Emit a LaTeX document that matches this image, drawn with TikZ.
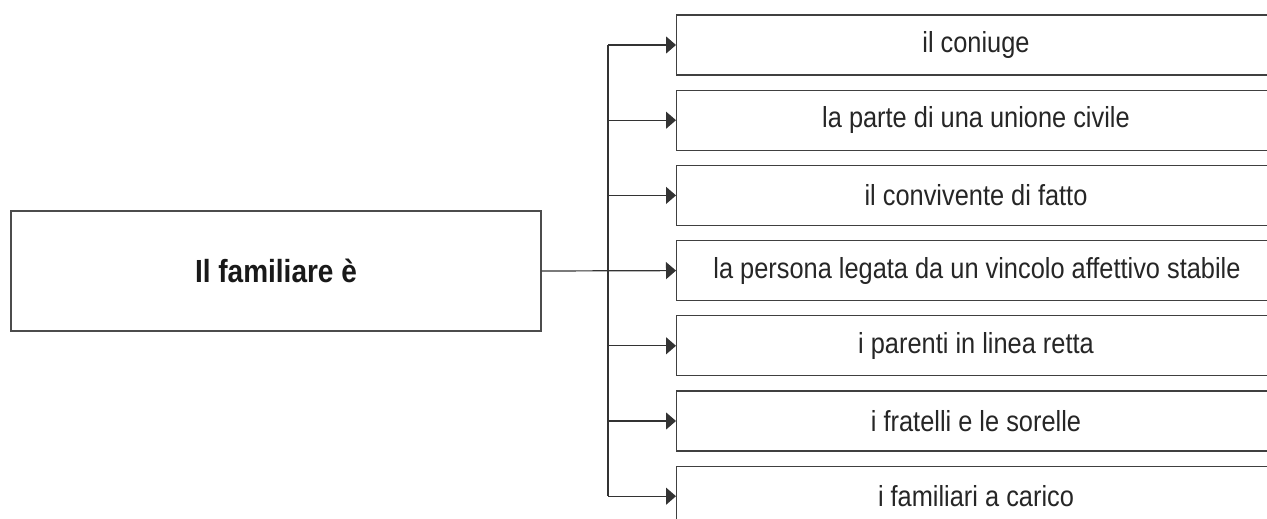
\documentclass[tikz,border=0pt]{standalone}
\usepackage{fontspec}
\setmainfont[FakeStretch=0.875]{Liberation Sans}
\usetikzlibrary{arrows.meta}
\begin{document}
\begin{tikzpicture}[x=1pt,y=-1pt,
  edge/.style={draw=black!80,line width=1.2pt},
  leftbox/.style={draw=black!70,line width=1.3pt,minimum width=530pt,minimum height=120pt,inner sep=0pt},
  itembox/.style={draw=black!75,line width=1.3pt,minimum width=640pt,minimum height=60pt,inner sep=0pt,anchor=west},
  itemtext/.style={font=\fontsize{29}{33}\selectfont,text=black!85,inner sep=0pt},
  arr/.style={edge,-{Triangle[length=10pt,width=17pt]}}]
\clip (0,0) rectangle (1267,519);
\fill[white] (0,0) rectangle (1267,519);
% source box
\node[leftbox] (src) at (276,271) {};
\node[font=\bfseries\fontsize{32}{35}\selectfont,text=black!90] (srct) at (276,271) {Il familiare è};
% target boxes
\foreach \i in {1,...,7}{
  \node[itembox] (b\i) at (676,{45+75.2*(\i-1)}) {};
}
\node[itemtext] (t1) at (976,45) {il coniuge};
\node[itemtext] (t2) at (976,120.2) {la parte di una unione civile};
\node[itemtext] (t3) at (976,195.4) {il convivente di fatto};
\node[itemtext] (t4) at (977,270.6) {la persona legata da un vincolo affettivo stabile};
\node[itemtext] (t5) at (976,345.8) {i parenti in linea retta};
\node[itemtext] (t6) at (976,421) {i fratelli e le sorelle};
\node[itemtext] (t7) at (976,496.2) {i familiari a carico};
% connectors
\coordinate (top) at (608,45);
\coordinate (bot) at (608,496.2);
\draw[edge] (top) -- (bot);
\draw[arr] (src.east) -- (b4.west);
\foreach \i in {1,2,3,5,6,7}{
  \draw[arr] (608,0 |- b\i.west) -- (b\i.west);
}
\end{tikzpicture}
\end{document}
